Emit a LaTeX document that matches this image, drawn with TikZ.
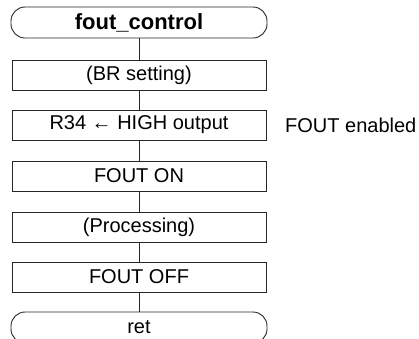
\documentclass[tikz,border=0pt]{standalone}
\usepackage{fontspec}
\setmainfont{Liberation Sans}
\begin{document}
\begin{tikzpicture}[x=1pt,y=-1pt,
  stepbox/.style={draw=black!85,line width=0.9pt,rectangle,minimum width=254pt,minimum height=30pt,inner sep=0pt,font=\fontsize{20}{22}\selectfont},
  termbox/.style={draw=black!85,line width=0.9pt,rectangle,rounded corners=14pt,minimum width=256pt,minimum height=31pt,inner sep=0pt},
  link/.style={draw=black!85,line width=0.9pt},
  note/.style={anchor=west,inner sep=0pt,font=\fontsize{20}{22}\selectfont}]
\clip (0,0) rectangle (419,338);
\fill[white] (0,0) rectangle (419,338);
\node[termbox,font=\fontsize{22}{24}\selectfont\bfseries] (start) at (139,22.5) {fout\_control};
\node[stepbox] (br) at (139,75) {(BR setting)};
\node[stepbox] (r34) at (139,125) {R34 ← HIGH output};
\node[stepbox] (on) at (139,176) {FOUT ON};
\node[stepbox] (proc) at (139,227) {(Processing)};
\node[stepbox] (off) at (139,277) {FOUT OFF};
\node[termbox,font=\fontsize{20}{22}\selectfont] (ret) at (139,327.5) {ret};
\node[note] (en) at (285,125) {FOUT enabled};
\draw[link] (start) -- (br);
\draw[link] (br) -- (r34);
\draw[link] (r34) -- (on);
\draw[link] (on) -- (proc);
\draw[link] (proc) -- (off);
\draw[link] (off) -- (ret);
\end{tikzpicture}
\end{document}
